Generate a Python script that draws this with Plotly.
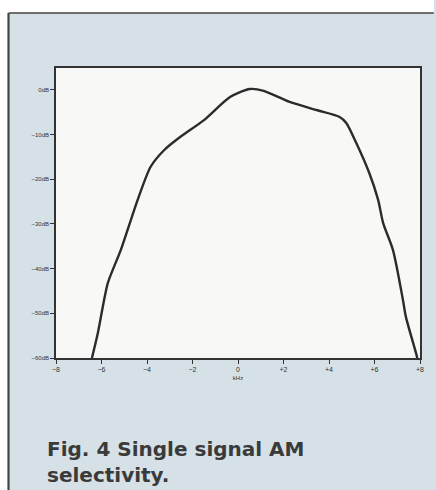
import plotly.graph_objects as go

khz = [-6.42, -6.16, -5.72, -5.15, -4.41, -3.84, -3.23, -2.53, -1.48, -0.35, 0.52, 1.13,
       2.27, 3.45, 4.45, 4.76, 5.2, 5.77, 6.16, 6.38, 6.81, 7.25, 7.38, 7.82, 7.88]
db = [-60, -54.4, -43.2, -35.8, -24.6, -17.2, -13.4, -10.5, -6.7, -1.6, 0.2, -0.2,
      -2.7, -4.5, -6.0, -7.4, -11.9, -18.6, -24.6, -29.8, -35.8, -47, -50.8, -58.8, -60]

x_ticks = [-8, -6, -4, -2, 0, 2, 4, 6, 8]
x_labels = ["\u22128", "\u22126", "\u22124", "\u22122", "0", "+2", "+4", "+6", "+8"]
y_ticks = [0, -10, -20, -30, -40, -50, -60]
y_labels = ["0dB", "\u221210dB", "\u221220dB", "\u221230dB", "\u221240dB", "\u221250dB", "\u221260dB"]

W, H = 436, 490
L, R, T, B = 56, 12, 68, 132
PW, PH = W - L - R, H - T - B


def px(x):
    return (x - L) / PW


def py(y):
    return (H - B - y) / PH


fig = go.Figure()
fig.add_trace(go.Scatter(x=khz, y=db, mode="lines",
                         line=dict(color="#2b2b2b", width=2.4, shape="spline", smoothing=0.7),
                         hoverinfo="skip"))

cap_font = dict(size=20, color="#3a3a3a", family="DejaVu Sans, sans-serif")
fig.update_layout(
    width=W, height=H,
    margin=dict(l=L, r=R, t=T, b=B),
    paper_bgcolor="#d6e1e7",
    plot_bgcolor="#f8f9f7",
    showlegend=False,
    font=dict(family="Liberation Sans, Arial, sans-serif", color="#333"),
    shapes=[
        dict(type="rect", xref="paper", yref="paper", x0=px(-2), x1=px(8), y0=py(H + 2), y1=py(-2),
             fillcolor="white", line=dict(width=0), layer="below"),
        dict(type="rect", xref="paper", yref="paper", x0=px(-2), x1=px(W + 2), y0=py(13), y1=py(-2),
             fillcolor="white", line=dict(width=0), layer="below"),
        dict(type="line", xref="paper", yref="paper", x0=px(8), x1=px(8), y0=py(H + 2), y1=py(13),
             line=dict(color="#444", width=2.2)),
        dict(type="line", xref="paper", yref="paper", x0=px(8), x1=px(W + 2), y0=py(13), y1=py(13),
             line=dict(color="#444", width=1.5)),
    ],
    annotations=[
        dict(text="<b>Fig. 4 Single signal AM<br>selectivity.</b>", xref="paper", yref="paper",
             x=px(45), y=py(489), xanchor="left", yanchor="bottom", align="left",
             showarrow=False, font=cap_font),
    ],
)
fig.update_xaxes(range=[-8, 8], tickvals=x_ticks, ticktext=x_labels,
                 ticks="outside", ticklen=4, tickcolor="#333", tickwidth=1,
                 tickfont=dict(size=7, color="#333"),
                 showgrid=False, zeroline=False, showline=True, linecolor="#333", linewidth=1.5,
                 mirror=True,
                 title=dict(text="kHz", font=dict(size=6, color="#333"), standoff=4))
fig.update_yaxes(range=[-60, 4.9], tickvals=y_ticks, ticktext=y_labels,
                 ticks="outside", ticklen=4, tickcolor="#333", tickwidth=1,
                 tickfont=dict(size=6, color="#333"),
                 showgrid=False, zeroline=False, showline=True, linecolor="#333", linewidth=1.5,
                 mirror=True)

fig.write_html("out.html", config={"displayModeBar": False},
               post_script="document.body.style.margin='0';")
